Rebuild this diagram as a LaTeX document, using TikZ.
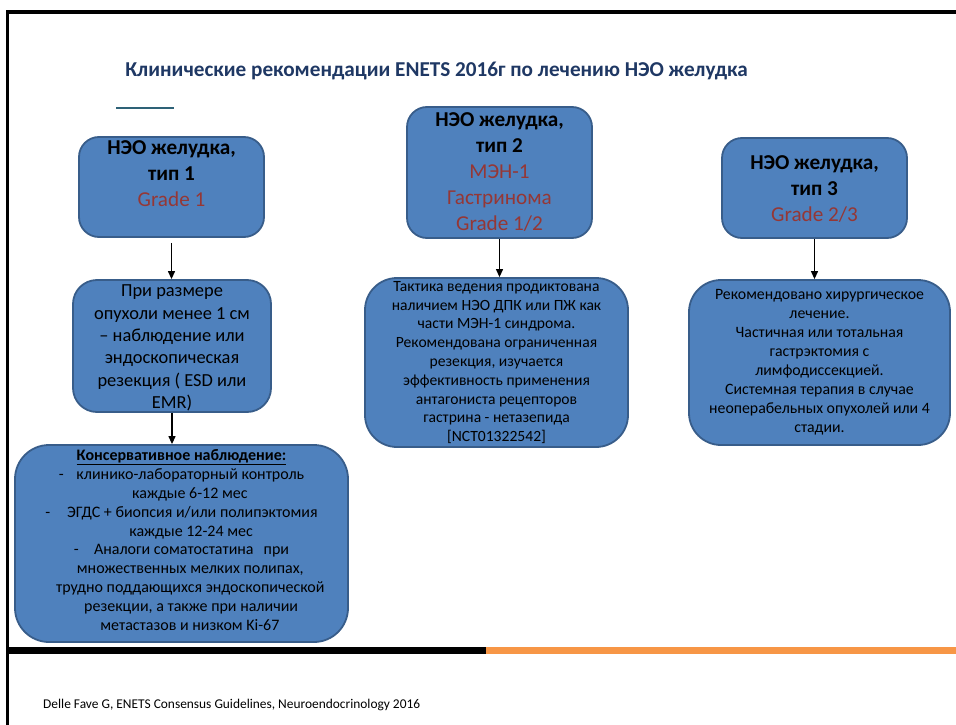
\documentclass[tikz,border=0pt]{standalone}
\usepackage{fontspec}
\setmainfont{Carlito}
\usetikzlibrary{arrows.meta}
\definecolor{boxfill}{HTML}{4F81BD}
\definecolor{boxline}{HTML}{385D8A}
\definecolor{gradered}{HTML}{953735}
\definecolor{titleblue}{HTML}{1F3864}
\definecolor{tealline}{HTML}{2E6277}
\definecolor{barorange}{HTML}{F79646}
\begin{document}
\begin{tikzpicture}[x=1pt,y=-1pt,
  box/.style={draw=boxline, fill=boxfill, line width=1.8pt, rounded corners=#1, inner sep=0pt},
  box/.default=20pt,
  headtxt/.style={align=center, inner sep=0pt, font=\fontsize{21.2}{26}\selectfont},
  bodytxt/.style 2 args={align=center, inner sep=0pt, font=\fontsize{#1}{#2}\selectfont},
  arr/.style={-{Triangle[length=8pt,width=7pt]}, line width=1.2pt, black}]
\useasboundingbox (0,0) rectangle (956,725);
% slide frame
\fill[black] (6,10) rectangle (956,14);
\fill[black] (6,10) rectangle (9,725);
\fill[black] (6,647) rectangle (486,654);
\fill[barorange] (486,647) rectangle (956,654);
\draw[tealline, line width=1.5pt] (116,108) -- (174,108);
% title
\node[titleblue, font=\fontsize{21.2}{26}\selectfont\bfseries, inner sep=0pt] (title) at (436.5,71)
  {Клинические рекомендации ENETS 2016г по лечению НЭО желудка};
% boxes
\node[box, minimum width=185pt, minimum height=100pt] (a) at (171.5,187) {};
\node[box=24pt, minimum width=198pt, minimum height=132pt] (b) at (172,346) {};
\node[box=34pt, minimum width=333pt, minimum height=197pt] (c) at (181.5,543.5) {};
\node[box, minimum width=185pt, minimum height=131pt] (d) at (499.5,172.5) {};
\node[box=32pt, minimum width=263pt, minimum height=169pt] (e) at (496.5,362.5) {};
\node[box, minimum width=185pt, minimum height=100pt] (f) at (814.5,188) {};
\node[box=32pt, minimum width=261pt, minimum height=165pt] (g) at (819.5,362.5) {};
% texts
\node[headtxt] (at) at (171.5,174) {\textbf{НЭО желудка,}\\\textbf{тип 1}\\\textcolor{gradered}{Grade 1}};
\node[headtxt] (dt) at (499.5,172) {\textbf{НЭО желудка,}\\\textbf{тип 2}\\\textcolor{gradered}{МЭН-1}\\\textcolor{gradered}{Гастринома}\\\textcolor{gradered}{Grade 1/2}};
\node[headtxt] (ft) at (814.5,189) {\textbf{НЭО желудка,}\\\textbf{тип 3}\\\textcolor{gradered}{Grade 2/3}};
\node[bodytxt={18.4}{22.4}] (bt) at (172,348) {При размере\\опухоли менее 1 см\\– наблюдение или\\эндоскопическая\\резекция ( ESD или\\EMR)};
\node[bodytxt={15.6}{18.8}] (et) at (496.5,362.5) {Тактика ведения продиктована\\наличием НЭО ДПК или ПЖ как\\части МЭН-1 синдрома.\\Рекомендована ограниченная\\резекция, изучается\\эффективность применения\\антагониста рецепторов\\гастрина - нетазепида\\{[}NCT01322542{]}};
\node[bodytxt={15.8}{19}] (gt) at (819.5,362.5) {Рекомендовано хирургическое\\лечение.\\Частичная или тотальная\\гастрэктомия с\\лимфодиссекцией.\\Системная терапия в случае\\неоперабельных опухолей или 4\\стадии.};
\node[bodytxt={16}{18.9}] (ct) at (181.5,540) {\underline{\textbf{Консервативное наблюдение:}}\\
-\hspace{0.8em}клинико-лабораторный контроль\\
\hspace{1.05em}каждые 6-12 мес\\
-\hspace{1.05em}ЭГДС + биопсия и/или полипэктомия\\
\hspace{1.2em}каждые 12-24 мес\\
-\hspace{0.95em}Аналоги соматостатина\hspace{0.4em} при\\
\hspace{1.1em}множественных мелких полипах,\\
\hspace{1.1em}трудно поддающихся эндоскопической\\
\hspace{1.2em}резекции, а также при наличии\\
\hspace{1.05em}метастазов и низком Ki-67};
% connectors
\draw[arr, shorten <=5pt] (a.south) -- (a.south |- b.north);
\draw[arr] (b.south) -- (b.south |- c.north);
\draw[arr] (d.south) -- (d.south |- e.north);
\draw[arr] (f.south) -- (f.south |- g.north);
% footer
\node[anchor=west, inner sep=0pt, font=\fontsize{13.4}{16}\selectfont] (foot) at (43,705)
  {Delle Fave G, ENETS Consensus Guidelines, Neuroendocrinology 2016};
\end{tikzpicture}
\end{document}
